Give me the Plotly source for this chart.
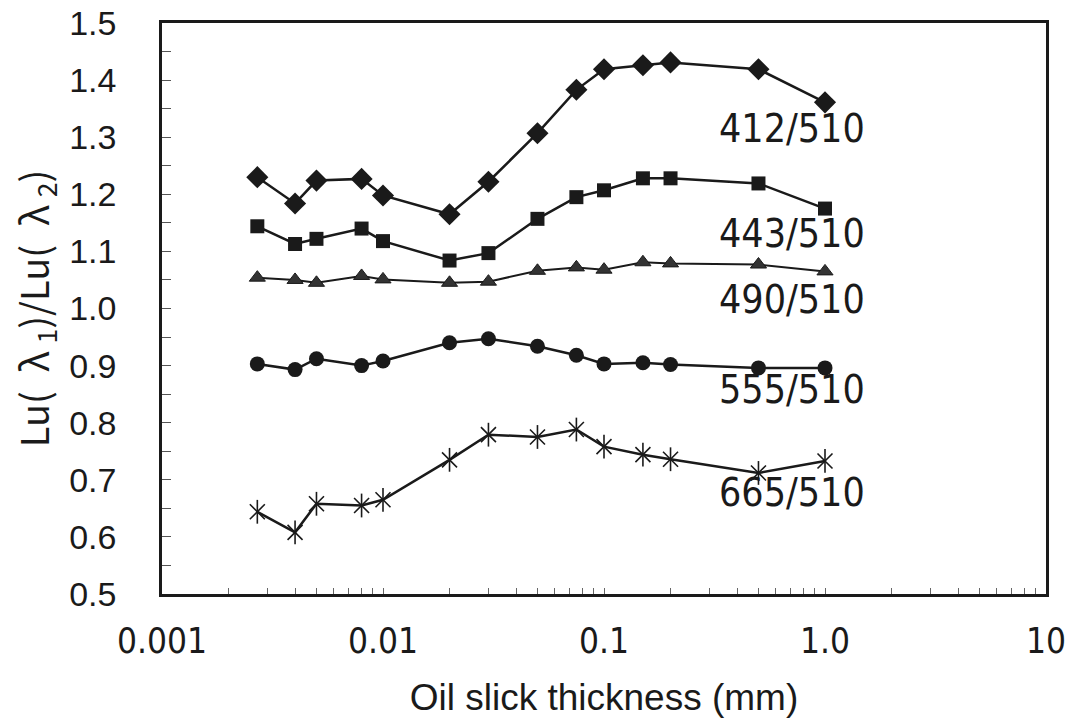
import plotly.graph_objects as go

# Data
thickness = [0.0027, 0.004, 0.005, 0.008, 0.01, 0.02, 0.03, 0.05, 0.075, 0.1, 0.15, 0.2, 0.5, 1.0]
r412 = [1.230, 1.184, 1.224, 1.227, 1.198, 1.165, 1.222, 1.307, 1.383, 1.419, 1.426, 1.431, 1.419, 1.361]
r443 = [1.144, 1.113, 1.122, 1.140, 1.118, 1.084, 1.097, 1.157, 1.195, 1.207, 1.228, 1.228, 1.219, 1.175]
r490 = [1.054, 1.050, 1.045, 1.057, 1.051, 1.045, 1.047, 1.066, 1.072, 1.068, 1.081, 1.079, 1.077, 1.065]
r555 = [0.903, 0.893, 0.912, 0.900, 0.908, 0.940, 0.947, 0.934, 0.918, 0.903, 0.905, 0.902, 0.896, 0.896]
r665 = [0.644, 0.608, 0.658, 0.655, 0.665, 0.735, 0.779, 0.775, 0.788, 0.758, 0.744, 0.736, 0.712, 0.733]

series_names = ["412/510", "443/510", "490/510", "555/510", "665/510"]
label_y = [1.316, 1.132, 1.016, 0.858, 0.677]

x_decades = [0.001, 0.01, 0.1, 1, 10]
x_decade_text = ["0.001", "0.01", "0.1", "1.0", "10"]
y_tickvals = [0.5, 0.6, 0.7, 0.8, 0.9, 1.0, 1.1, 1.2, 1.3, 1.4, 1.5]
y_ticktext = ["0.5", "0.6", "0.7", "0.8", "0.9", "1.0", "1.1", "1.2", "1.3", "1.4", "1.5"]

# log-axis tick positions: decade labels plus unlabelled 2..9 sub-ticks
x_tickvals, x_ticktext = [], []
for d, t in zip(x_decades, x_decade_text):
    x_tickvals.append(d)
    x_ticktext.append(t)
    if d < 10:
        for m in range(2, 10):
            x_tickvals.append(d * m)
            x_ticktext.append("")

INK = "#1a1a1a"
NARROW = "Liberation Sans Narrow, Arial Narrow, DejaVu Sans Condensed, sans-serif"
REG = "Liberation Sans, Arial, sans-serif"
CJK = "Noto Sans CJK JP, Liberation Sans, sans-serif"

fig = go.Figure()
line = dict(color=INK, width=2.5)

fig.add_trace(go.Scatter(x=thickness, y=r412, mode="lines+markers", line=line,
                         marker=dict(symbol="diamond", size=17, color=INK), name=series_names[0]))
fig.add_trace(go.Scatter(x=thickness, y=r443, mode="lines+markers", line=line,
                         marker=dict(symbol="square", size=14, color=INK), name=series_names[1]))
fig.add_trace(go.Scatter(x=thickness, y=r490, mode="lines+markers", line=dict(color=INK, width=2),
                         marker=dict(symbol="triangle-up", size=14, color="#333333",
                                     line=dict(color=INK, width=1)), name=series_names[2]))
fig.add_trace(go.Scatter(x=thickness, y=r555, mode="lines+markers", line=line,
                         marker=dict(symbol="circle", size=15, color=INK), name=series_names[3]))
fig.add_trace(go.Scatter(x=thickness, y=r665, mode="lines+markers", line=line,
                         marker=dict(symbol="x-thin-open", size=15, color=INK,
                                     line=dict(color=INK, width=1.6)), name=series_names[4]))
fig.add_trace(go.Scatter(x=thickness, y=r665, mode="markers",
                         marker=dict(symbol="line-ns-open", size=17, color=INK,
                                     line=dict(color=INK, width=1.6)),
                         showlegend=False, hoverinfo="skip"))

for name, ly in zip(series_names, label_y):
    fig.add_annotation(x=0.713, xref="paper", y=ly, yref="y", text=name, showarrow=False,
                       xanchor="center", yanchor="middle",
                       font=dict(family=NARROW, size=39, color=INK))

fig.update_xaxes(type="log", range=[-3, 1], tickvals=x_tickvals, ticktext=x_ticktext,
                 showgrid=False, zeroline=False, showline=True, linecolor=INK, linewidth=2.5,
                 mirror=True, ticks="inside", ticklen=6, tickcolor="#666", tickwidth=1,
                 tickfont=dict(family=NARROW, size=35, color=INK), ticklabelstandoff=14,
                 automargin=False,
                 title=dict(text="Oil slick thickness (mm)", standoff=36,
                            font=dict(family=REG, size=37, color=INK)))
fig.update_yaxes(range=[0.5, 1.5], tickvals=y_tickvals, ticktext=y_ticktext,
                 showgrid=False, zeroline=False, showline=True, linecolor=INK, linewidth=2.5,
                 mirror=True, ticks="inside", ticklen=9, tickcolor="#555", tickwidth=1,
                 minor=dict(dtick=0.05, ticks="inside", ticklen=9, tickcolor="#555", tickwidth=1,
                            showgrid=False),
                 tickfont=dict(family=REG, size=34, color=INK), ticklabelstandoff=36,
                 automargin=False,
                 title=dict(text="Lu(&#8194;λ&#8201;<sub>1</sub>)/Lu(&#8194;λ&#8201;<sub>2</sub>)",
                            standoff=8, font=dict(family=CJK, size=38, color=INK)))

fig.update_layout(width=1074, height=718, margin=dict(l=162, r=28, t=23, b=124),
                  plot_bgcolor="white", paper_bgcolor="white", showlegend=False)

fig.write_html("out.html")
